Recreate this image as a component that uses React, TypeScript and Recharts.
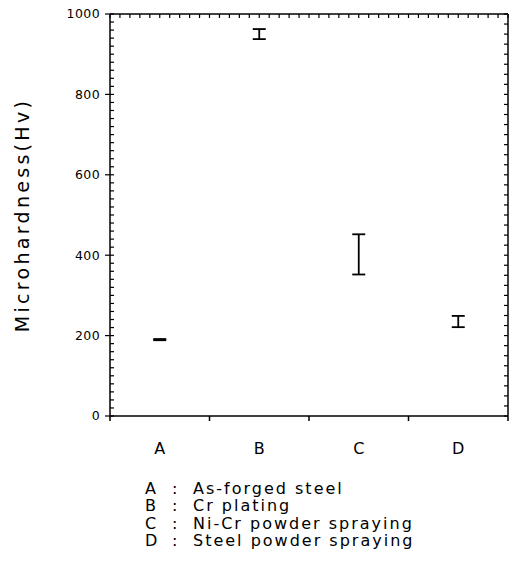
import React from 'react';
import { ScatterChart, Scatter, XAxis, YAxis, ErrorBar } from 'recharts';

// ---- data ----
const categories = ['A', 'B', 'C', 'D'];
const categoryX = [0.5, 1.5, 2.5, 3.5];
const hardnessMean = [190, 950, 402, 235];
const hardnessError = [1.5, 12.5, 50, 14];
const descriptions = ['As-forged steel', 'Cr plating', 'Ni-Cr powder spraying', 'Steel powder spraying'];
const yMajorTicks = [0, 200, 400, 600, 800, 1000];
const bottomTicks = [0, 0.5, 1, 1.5, 2, 2.5, 3, 3.5, 4];

const range = (start: number, end: number, step: number) => {
  const out: number[] = [];
  for (let v = start; v <= end + 1e-9; v += step) out.push(Math.round(v * 1000) / 1000);
  return out;
};
const yMinorTicks = range(0, 1000, 20);
const yRightTicks = range(0, 1000, 25);
const topTicks = range(0, 4, 0.1);

const tableData = categories.map((c, i) => ({
  name: c,
  x: categoryX[i],
  y: hardnessMean[i],
  err: hardnessError[i],
}));

const FONT = '"DejaVu Sans", sans-serif';
const INK = '#000';

const BottomTick = (props: any) => {
  const { x, y, payload } = props;
  const v = payload.value as number;
  if (Number.isInteger(v)) {
    return <line x1={x} y1={y} x2={x} y2={y + 5} stroke={INK} strokeWidth={1.5} />;
  }
  const idx = Math.floor(v);
  return (
    <text x={x} y={y + 38} textAnchor="middle" fontSize={16} fontFamily={FONT} fill={INK}>
      {categories[idx]}
    </text>
  );
};

const EmptyTick = () => <g />;

const YLabel = (p: any) => {
  const vb = p.viewBox || { x: 50, y: 14, width: 60, height: 402 };
  const cx = vb.x - 28;
  const cy = vb.y + vb.height / 2;
  return (
    <text
      x={cx}
      y={cy}
      transform={`rotate(-90 ${cx} ${cy})`}
      textAnchor="middle"
      dominantBaseline="central"
      fontSize={19}
      letterSpacing={3.3}
      fontFamily={FONT}
      fill={INK}
    >
      Microhardness(Hv)
    </text>
  );
};

const NoDot = () => <g />;

export default function App() {
  return (
    <div style={{ position: 'relative', width: 517, height: 575, background: '#fff' }}>
      <style>{'body{margin:0;background:#fff}'}</style>
      <ScatterChart width={517} height={575} margin={{ top: 14, right: 9, left: 50, bottom: 119 }}>
        <XAxis
          xAxisId="bottom"
          type="number"
          dataKey="x"
          orientation="bottom"
          domain={[0, 4]}
          allowDataOverflow
          ticks={bottomTicks}
          interval={0}
          tickLine={false}
          tickSize={0}
          tickMargin={0}
          height={40}
          tick={<BottomTick />}
          axisLine={{ stroke: INK, strokeWidth: 1.5 }}
        />
        <XAxis
          xAxisId="top"
          type="number"
          dataKey="x"
          orientation="top"
          domain={[0, 4]}
          allowDataOverflow
          ticks={topTicks}
          interval={0}
          mirror
          tick={<EmptyTick />}
          tickSize={4}
          tickLine={{ stroke: INK, strokeWidth: 1.2 }}
          axisLine={{ stroke: INK, strokeWidth: 1.5 }}
          height={1}
        />
        <YAxis
          yAxisId="left"
          type="number"
          dataKey="y"
          domain={[0, 1000]}
          allowDataOverflow
          ticks={yMajorTicks}
          interval={0}
          width={60}
          tickSize={5}
          tickMargin={5}
          tickLine={{ stroke: INK, strokeWidth: 1.2 }}
          axisLine={{ stroke: INK, strokeWidth: 1.5 }}
          tick={{ fontSize: 12.5, fontFamily: FONT, fill: INK, letterSpacing: 0.4 }}
          label={{ value: 'Microhardness(Hv)', content: <YLabel /> }}
        />
        <YAxis
          yAxisId="minor"
          type="number"
          dataKey="y"
          domain={[0, 1000]}
          allowDataOverflow
          ticks={yMinorTicks}
          interval={0}
          mirror
          tick={<EmptyTick />}
          tickSize={4}
          tickLine={{ stroke: INK, strokeWidth: 1.2 }}
          axisLine={false}
          width={1}
        />
        <YAxis
          yAxisId="right"
          type="number"
          dataKey="y"
          orientation="right"
          domain={[0, 1000]}
          allowDataOverflow
          ticks={yRightTicks}
          interval={0}
          mirror
          tick={<EmptyTick />}
          tickSize={4}
          tickLine={{ stroke: INK, strokeWidth: 1.2 }}
          axisLine={{ stroke: INK, strokeWidth: 1.5 }}
          width={1}
        />
        <Scatter
          data={tableData}
          xAxisId="bottom"
          yAxisId="left"
          dataKey="y"
          shape={<NoDot />}
          isAnimationActive={false}
        >
          <ErrorBar
            dataKey="err"
            direction="y"
            width={6.5}
            stroke={INK}
            strokeWidth={1.8}
            isAnimationActive={false}
          />
        </Scatter>
      </ScatterChart>
      <div
        style={{
          position: 'absolute',
          left: 145,
          top: 480,
          fontFamily: FONT,
          fontSize: 16,
          lineHeight: '17.3px',
          color: INK,
          letterSpacing: 2,
        }}
      >
        {categories.map((c, i) => (
          <div key={c} style={{ display: 'flex', whiteSpace: 'nowrap' }}>
            <span style={{ width: 27, display: 'inline-block' }}>{c}</span>
            <span style={{ width: 21, display: 'inline-block' }}>:</span>
            <span>{descriptions[i]}</span>
          </div>
        ))}
      </div>
    </div>
  );
}
